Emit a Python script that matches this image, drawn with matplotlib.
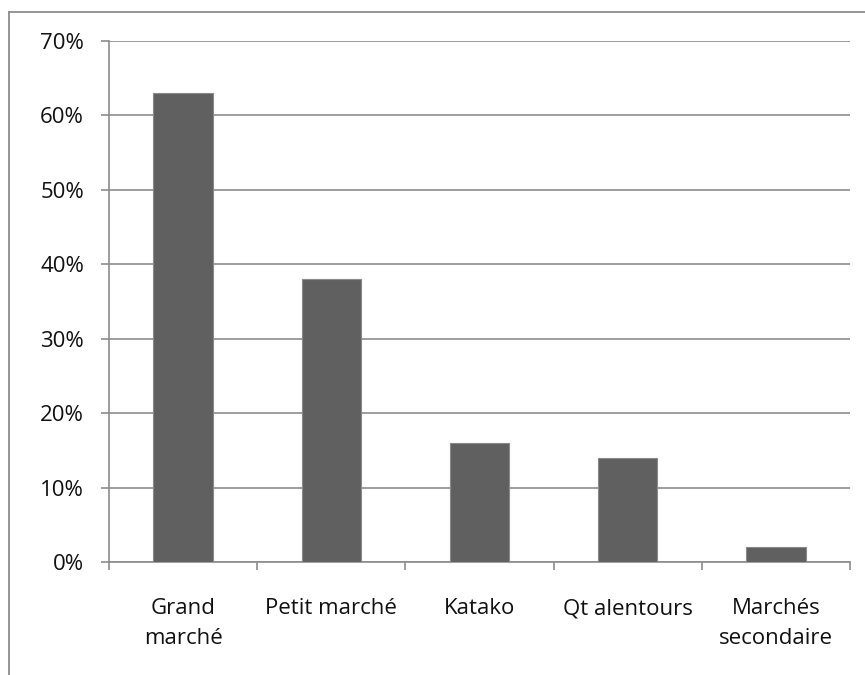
import matplotlib.pyplot as plt
from matplotlib.lines import Line2D
from matplotlib.ticker import FuncFormatter

categories = ['Grand\nmarché', 'Petit marché', 'Katako', 'Qt alentours', 'Marchés\nsecondaire']
values = [63, 38, 16, 14, 2]
yticks = [0, 10, 20, 30, 40, 50, 60, 70]

plt.rcParams['font.family'] = ['Open Sans', 'DejaVu Sans']

W, H = 865, 675
fig = plt.figure(figsize=(W / 100, H / 100), dpi=100)
ax = fig.add_axes([109 / W, 1 - 562 / H, (850 - 109) / W, (562 - 41) / H])

x = list(range(len(categories)))
ax.bar(x, values, width=0.4, color='#606060', edgecolor='#8a8a8a', linewidth=0.8, zorder=3)

ax.set_xlim(-0.5, len(categories) - 0.5)
ax.set_ylim(0, 70)
ax.set_yticks(yticks)
ax.yaxis.set_major_formatter(FuncFormatter(lambda v, p: '%d%%' % v))
ax.grid(axis='y', color='#8c8c8c', linewidth=1.2, zorder=0)

# x ticks between categories, labels at centers
ax.set_xticks([i - 0.5 for i in range(len(categories) + 1)])
ax.set_xticklabels([])
ax.set_xticks(x, minor=True)
ax.set_xticklabels(categories, minor=True, fontsize=16, linespacing=1.55, color='#111111')
ax.tick_params(axis='x', which='minor', length=0, pad=26)
ax.tick_params(axis='x', which='major', length=6, width=1.2, color='#8c8c8c')
ax.tick_params(axis='y', length=6, width=1.2, color='#8c8c8c', labelsize=16, labelcolor='#111111', pad=12)

for s in ['top', 'right']:
    ax.spines[s].set_visible(False)
for s in ['left', 'bottom']:
    ax.spines[s].set_color('#8c8c8c')
    ax.spines[s].set_linewidth(1.2)

# outer chart border (left and top)
fig.add_artist(Line2D([9 / W, 9 / W], [0, 1 - 12 / H], transform=fig.transFigure, color='#8c8c8c', lw=1.3))
fig.add_artist(Line2D([9 / W, 1], [1 - 12 / H, 1 - 12 / H], transform=fig.transFigure, color='#8c8c8c', lw=1.3))

fig.savefig('out.png', dpi=100)
